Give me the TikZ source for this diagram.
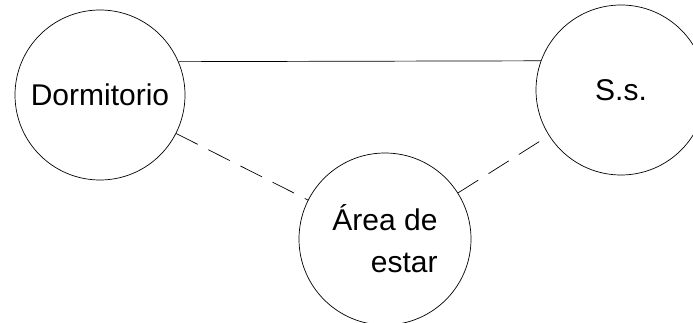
\documentclass[tikz,border=0pt]{standalone}
\usepackage{fontspec}
\setmainfont{Liberation Sans}
\usetikzlibrary{
	positioning,
	calc
}

\begin{document}
\begin{tikzpicture}[
		x=1pt, y=-1pt,
		room/.style={draw, circle, line width=0.7pt, minimum size=170pt, align=right, font=\fontsize{30}{42}\selectfont},
		link/.style={line width=0.7pt},
		weak/.style={line width=0.7pt, dash pattern=on 24pt off 12pt}
		]
		
		\useasboundingbox (0,0) rectangle (693,323);
		
		% =========================
		% Rooms
		% =========================
		\node[room] (dorm) at (100,95) {Dormitorio};
		\node[room] (ss) at (621,90) {S.s.};
		\node[room, minimum size=172pt] (estar) at (385,239) {Área de\\estar};
		
		% =========================
		% Relations
		% =========================
		\draw[link] (dorm.23.6) -- (ss.160);
		\draw[weak] (dorm) -- (estar);
		\draw[weak] (estar) -- (ss);
		
	\end{tikzpicture}
\end{document}
